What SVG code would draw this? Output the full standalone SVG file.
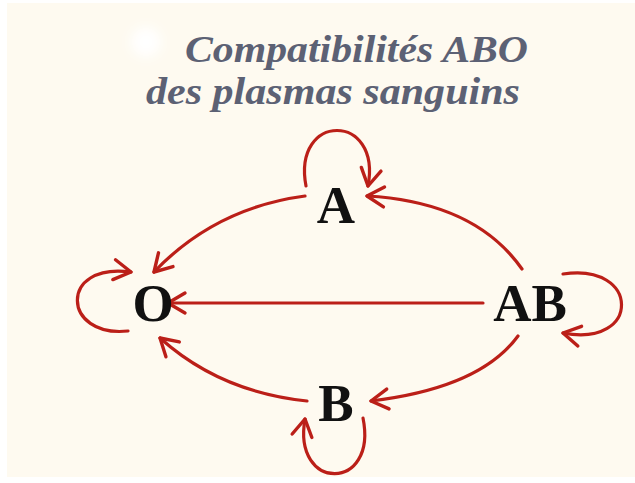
<svg xmlns="http://www.w3.org/2000/svg" width="635" height="483" viewBox="0 0 635 483">
<defs>
<style>
.title{font-family:"Liberation Serif","Times New Roman",serif;font-weight:bold;font-style:italic;font-size:38px;fill:#5c6174}
.node{font-family:"Liberation Serif","Times New Roman",serif;font-weight:bold;font-size:53px;fill:#111;text-anchor:middle}
.edge{fill:none;stroke:#bb1f18;stroke-width:3.2;stroke-linecap:round;marker-end:url(#arr)}
</style>
<marker id="arr" markerUnits="userSpaceOnUse" markerWidth="40" markerHeight="40" refX="0" refY="0" viewBox="-20 -20 40 40" orient="auto">
<path d="M-17,-10 L0,0 L-17,10" fill="none" stroke="#bb1f18" stroke-width="3.4" stroke-linecap="round" stroke-linejoin="round"/>
</marker>
<filter id="blur" x="-1" y="-1" width="3" height="3"><feGaussianBlur stdDeviation="6"/></filter>
</defs>
<rect x="0" y="0" width="635" height="483" fill="#ffffff"/>
<rect x="7" y="3" width="628" height="474" fill="#fefaf0"/>
<ellipse cx="146" cy="42" rx="15" ry="15" fill="#ffffff" filter="url(#blur)"/>
<g id="title">
<text class="title" x="185" y="62" textLength="343" lengthAdjust="spacingAndGlyphs">Compatibilités ABO</text>
<text class="title" x="146" y="104" textLength="374" lengthAdjust="spacingAndGlyphs">des plasmas sanguins</text>
</g>
<g id="connectors">
<path class="edge" d="M305,196 Q215,208 154,272"/>
<path class="edge" d="M483,303 L168,303"/>
<path class="edge" d="M522,269 Q475,202 367,196"/>
<path class="edge" d="M518,336 Q480,388 371,401"/>
<path class="edge" d="M307,401 Q220,392 160,338"/>
<path class="edge" d="M306,186 C292,112 382,112 368,186"/>
<path class="edge" d="M128,331 C62,338 58,262 131,272"/>
<path class="edge" d="M563,274 C640,262 642,348 563,333"/>
<path class="edge" d="M363,418 C378,492 292,492 305,419"/>
</g>
<g id="node-A"><text class="node" x="336" y="223">A</text></g>
<g id="node-O"><text class="node" x="153" y="321">O</text></g>
<g id="node-AB"><text class="node" x="530" y="321">AB</text></g>
<g id="node-B"><text class="node" x="336" y="421">B</text></g>
</svg>
